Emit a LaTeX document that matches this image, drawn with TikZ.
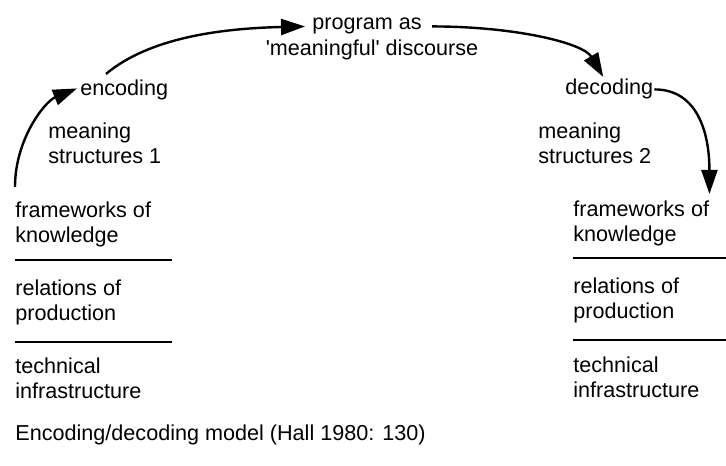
\documentclass[tikz,border=0pt]{standalone}
\usepackage{fontspec}
\setmainfont{Liberation Sans}
\usetikzlibrary{arrows.meta}
\begin{document}
\begin{tikzpicture}[x=0.5pt,y=-0.5pt,
  lbl/.style={inner sep=0pt,anchor=base west,align=left,font=\fontsize{10.8}{12.5}\selectfont},
  flow/.style={-{Triangle[length=12pt,width=8pt]},line width=1.2pt}]
\useasboundingbox (0,0) rectangle (726,465);
% vertices
\node[lbl] (prog1) at (312,30) {program as};
\node[lbl,anchor=base] (prog2) at (372,55) {\textquotesingle meaningful\textquotesingle\ discourse};
\node[lbl] (enc) at (80,96) {encoding};
\node[lbl] (ms1) at (48,163) {meaning\\structures 1};
\node[lbl] (dec) at (565,95) {decoding};
\node[lbl] (ms2) at (538,163) {meaning\\structures 2};
% left stack
\node[lbl] (fw1) at (15,242) {frameworks of\\knowledge};
\node[lbl] (rel1) at (15,320) {relations of\\production};
\node[lbl] (tech1) at (15,398) {technical\\infrastructure};
% right stack
\node[lbl] (fw2) at (573,241) {frameworks of\\knowledge};
\node[lbl] (rel2) at (573,318) {relations of\\production};
\node[lbl] (tech2) at (573,397) {technical\\infrastructure};
\node[lbl] (cap) at (15,440) {Encoding/decoding model (Hall 1980: 130)};
% rules
\coordinate (l1a) at (15,260); \coordinate (l1b) at (172,260);
\coordinate (l2a) at (15,342); \coordinate (l2b) at (172,342);
\coordinate (r1a) at (573,258); \coordinate (r1b) at (726,258);
\coordinate (r2a) at (573,340); \coordinate (r2b) at (726,340);
\draw[line width=1.1pt] (l1a) -- (l1b);
\draw[line width=1.1pt] (l2a) -- (l2b);
\draw[line width=1.1pt] (r1a) -- (r1b);
\draw[line width=1.1pt] (r2a) -- (r2b);
%edges
\draw[flow] ([yshift=7pt]fw1.north west) .. controls +(0,-48) and +(-32,13) .. ([xshift=-1.5pt,yshift=1pt]enc.west);
\draw[flow] ([xshift=13pt,yshift=3pt]enc.north west) .. controls +(43,-36) and +(-85,2) .. ([xshift=-3.5pt]prog1.west);
\draw[flow] ([xshift=5pt]prog1.east) .. controls +(83,0) and +(-20,-34) .. ([xshift=-3pt,yshift=1pt]dec.north);
\draw[flow] ([xshift=0.5pt]dec.east) .. controls +(42,0) and +(0,-63) .. ([yshift=3pt]fw2.north east);
\end{tikzpicture}
\end{document}
